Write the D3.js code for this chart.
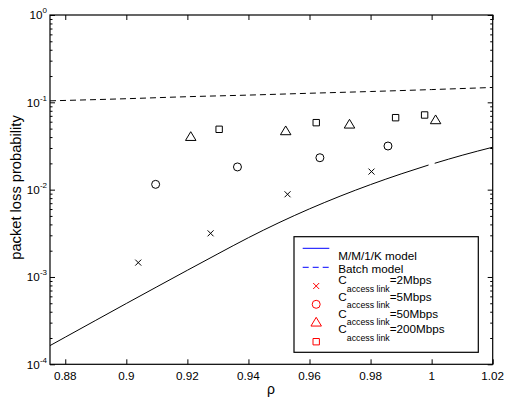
<!DOCTYPE html>
<html><head><meta charset="utf-8">
<script src="https://cdn.jsdelivr.net/npm/d3@7"></script>
<style>body{margin:0;background:#fff} text{font-family:"Liberation Sans",Arial,Helvetica,sans-serif;fill:#000}</style>
</head><body><svg id="c" width="506" height="398"></svg>
<script>
// ---- data ----
const rhoTicks = [0.88, 0.9, 0.92, 0.94, 0.96, 0.98, 1, 1.02];
const rhoTickLabels = ["0.88", "0.9", "0.92", "0.94", "0.96", "0.98", "1", "1.02"];
const yTicks = [1e-4, 1e-3, 1e-2, 1e-1, 1];
const yTickExps = ["-4", "-3", "-2", "-1", "0"];

// M/M/1/K model (undefined at rho = 1)
const mm1kRho  = [0.875, 0.88, 0.89, 0.90, 0.91, 0.92, 0.93, 0.94, 0.95, 0.96, 0.97, 0.98, 0.99, 0.999, 1.0, 1.001, 1.01, 1.02];
const mm1kLoss = [1.637e-4, 2.046e-4, 3.19e-4, 4.97e-4, 7.71e-4, 1.194e-3, 1.841e-3, 2.818e-3, 4.188e-3, 6.026e-3, 8.414e-3, 0.01143, 0.01514, 0.01914, null, 0.02004, 0.02477, 0.03062];

// Batch model
const batchRho  = [0.875, 0.9, 0.92, 0.94, 0.96, 0.98, 1.0, 1.02];
const batchLoss = [0.104, 0.110, 0.116, 0.121, 0.127, 0.133, 0.140, 0.148];

// simulations
const c2Rho    = [0.9039, 0.9276, 0.9528, 0.9803];
const c2Loss   = [1.46e-3, 3.16e-3, 8.85e-3, 0.0161];
const c5Rho    = [0.9096, 0.9364, 0.9634, 0.9857];
const c5Loss   = [0.0115, 0.0182, 0.0232, 0.0316];
const c50Rho   = [0.9211, 0.9522, 0.9731, 1.0013];
const c50Loss  = [0.0404, 0.0470, 0.0560, 0.0628];
const c200Rho  = [0.9304, 0.9622, 0.9882, 0.9977];
const c200Loss = [0.0491, 0.0585, 0.0667, 0.0716];

const legendLabels = ["M/M/1/K model", "Batch model"];
const legendRates = ["=2Mbps", "=5Mbps", "=50Mbps", "=200Mbps"];

// ---- layout ----
const L = 50, R = 492.7, T = 15, B = 364.3;
const svg = d3.select("#c");
const x = d3.scaleLinear().domain([0.875, 1.02]).range([L, R]);
const y = d3.scaleLog().domain([1e-4, 1]).range([B, T]);

// axes (inward ticks)
const minor = [];
for (let e = -4; e < 0; e++) for (let k = 2; k <= 9; k++) minor.push(k * Math.pow(10, e));

function styleAxis(g) {
  g.select(".domain").remove();
  g.selectAll("line").attr("stroke", "#000").attr("stroke-width", 1);
}
svg.append("g").attr("transform", `translate(0,${B})`)
  .call(d3.axisBottom(x).tickValues(rhoTicks).tickSize(-5).tickFormat(""))
  .call(styleAxis);
svg.append("g").attr("transform", `translate(0,${T})`)
  .call(d3.axisTop(x).tickValues(rhoTicks).tickSize(-5).tickFormat(""))
  .call(styleAxis);
svg.append("g").attr("transform", `translate(${L},0)`)
  .call(d3.axisLeft(y).tickValues(yTicks).tickSize(-5).tickFormat(""))
  .call(styleAxis);
svg.append("g").attr("transform", `translate(${R},0)`)
  .call(d3.axisRight(y).tickValues(yTicks).tickSize(-5).tickFormat(""))
  .call(styleAxis);
svg.append("g").attr("transform", `translate(${L},0)`)
  .call(d3.axisLeft(y).tickValues(minor).tickSize(-2.5).tickFormat(""))
  .call(styleAxis);
svg.append("g").attr("transform", `translate(${R},0)`)
  .call(d3.axisRight(y).tickValues(minor).tickSize(-2.5).tickFormat(""))
  .call(styleAxis);

// box
svg.append("rect").attr("x", L).attr("y", T).attr("width", R - L).attr("height", B - T)
  .attr("fill", "none").attr("stroke", "#000").attr("stroke-width", 1.2);

// tick labels
svg.append("g").selectAll("text").data(rhoTicks).join("text")
  .attr("x", d => x(d)).attr("y", 379.5).attr("text-anchor", "middle")
  .attr("font-size", 11.7).text((d, i) => rhoTickLabels[i]);
const yl = svg.append("g").selectAll("text").data(yTicks).join("text")
  .attr("x", 47).attr("y", d => y(d) + 4.2).attr("text-anchor", "end").attr("font-size", 11.7);
yl.append("tspan").text("10");
yl.append("tspan").attr("font-size", 8).attr("dy", -6).text((d, i) => yTickExps[i]);

// axis labels
svg.append("text").attr("x", 271).attr("y", 394).attr("text-anchor", "middle")
  .attr("font-size", 14).text("ρ");
svg.append("text").attr("transform", "translate(20.7,187.5) rotate(-90)")
  .attr("text-anchor", "middle").attr("font-size", 14.7).text("packet loss probability");

// lines
svg.append("clipPath").attr("id", "pc").append("rect")
  .attr("x", L).attr("y", T).attr("width", R - L).attr("height", B - T);
const line = d3.line().defined(d => d[1] != null).x(d => x(d[0])).y(d => y(d[1]))
  .curve(d3.curveMonotoneX);
svg.append("path").datum(mm1kRho.map((r, i) => [r, mm1kLoss[i]]))
  .attr("d", line).attr("fill", "none").attr("stroke", "#000").attr("stroke-width", 1)
  .attr("clip-path", "url(#pc)");
svg.append("path").datum(batchRho.map((r, i) => [r, batchLoss[i]]))
  .attr("d", line).attr("fill", "none").attr("stroke", "#000").attr("stroke-width", 1)
  .attr("stroke-dasharray", "6,4").attr("clip-path", "url(#pc)");

// markers
const markerPaths = {
  x: s => `M${-s},${-s}L${s},${s}M${-s},${s}L${s},${-s}`,
  o: s => d3.symbol(d3.symbolCircle, Math.PI * s * s)(),
  t: s => `M0,${-s}L${s * 1.05},${s * 0.75}L${-s * 1.05},${s * 0.75}Z`,
  s: s => `M${-s},${-s}H${s}V${s}H${-s}Z`
};
const series = [
  {rho: c2Rho, loss: c2Loss, m: "x", size: 3},
  {rho: c5Rho, loss: c5Loss, m: "o", size: 4},
  {rho: c50Rho, loss: c50Loss, m: "t", size: 5},
  {rho: c200Rho, loss: c200Loss, m: "s", size: 3.2}
];
series.forEach(s => {
  svg.append("g").selectAll("path").data(s.rho.map((r, i) => [r, s.loss[i]])).join("path")
    .attr("transform", d => `translate(${x(d[0])},${y(d[1])})`)
    .attr("d", markerPaths[s.m](s.size))
    .attr("fill", "none").attr("stroke", "#000").attr("stroke-width", 1);
});

// legend
const lg = svg.append("g");
lg.append("rect").attr("x", 294).attr("y", 236.7).attr("width", 184.3).attr("height", 115.6)
  .attr("fill", "#fff").attr("stroke", "#000").attr("stroke-width", 1.2);
lg.append("line").attr("x1", 302.7).attr("x2", 329.3).attr("y1", 248.3).attr("y2", 248.3)
  .attr("stroke", "#0000ff").attr("stroke-width", 1);
lg.append("line").attr("x1", 302.7).attr("x2", 329.3).attr("y1", 267.3).attr("y2", 267.3)
  .attr("stroke", "#0000ff").attr("stroke-width", 1).attr("stroke-dasharray", "6,4");
lg.append("text").attr("x", 338.3).attr("y", 260.2).attr("font-size", 11.7).text(legendLabels[0]);
lg.append("text").attr("x", 338.3).attr("y", 272.5).attr("font-size", 11.7).text(legendLabels[1]);
const rowTextY = [284.2, 300.9, 317.5, 333.2];
const rowMarkY = [286, 304.3, 322.3, 341.7];
series.forEach((s, i) => {
  lg.append("path").attr("transform", `translate(316.2,${rowMarkY[i]})`)
    .attr("d", markerPaths[s.m](s.size)).attr("fill", "none").attr("stroke", "#ff0000").attr("stroke-width", 1);
  const t = lg.append("text").attr("x", 338.3).attr("y", rowTextY[i]).attr("font-size", 11.7);
  t.append("tspan").text("C");
  t.append("tspan").attr("font-size", 8.8).attr("dy", 7.3).text("access link");
  t.append("tspan").attr("dy", -7.3).text(legendRates[i]);
});
</script></body></html>
